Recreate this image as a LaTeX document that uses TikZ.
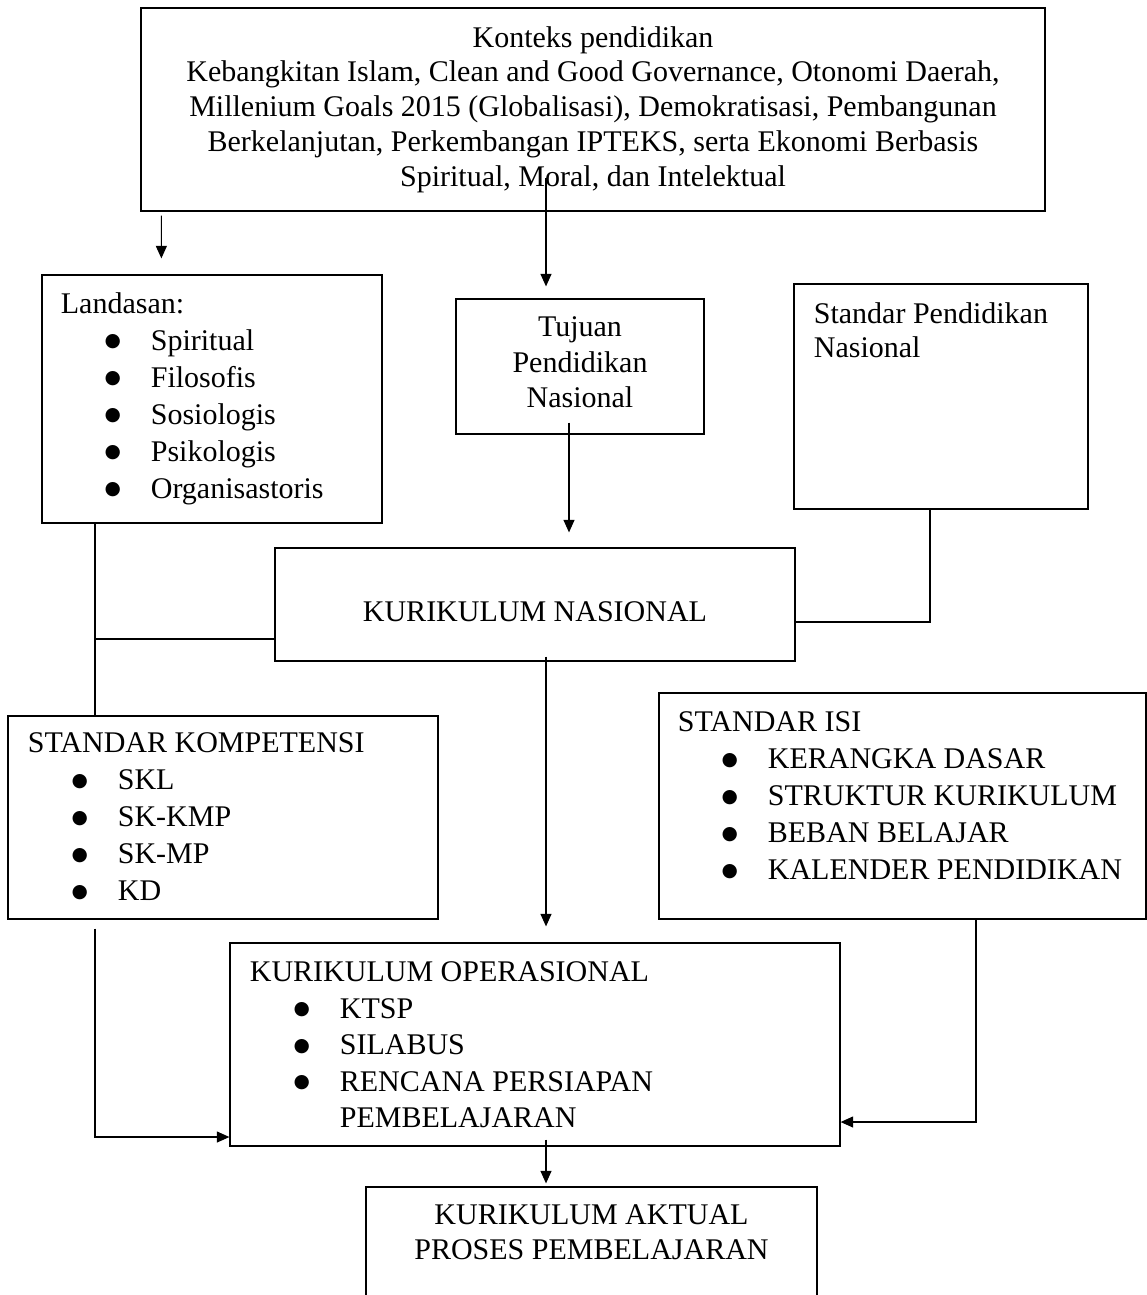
\documentclass[tikz,border=0pt]{standalone}
\usepackage{fontspec}
\setmainfont{Liberation Serif}
\newfontfamily\bulletfont{DejaVu Sans}
\usetikzlibrary{arrows.meta, positioning, calc}
\tikzset{
  box/.style={draw, line width=0.5pt, inner sep=0pt},
  txt/.style={inner sep=0pt, anchor=north west, align=left},
  link/.style={line width=0.45pt},
  arr/.style={link, -{Triangle[length=5pt, width=4.4pt]}},
}
\newcommand{\titik}[1]{\hspace*{17.5pt}\makebox[18.5pt][l]{\raisebox{1.4pt}{\bulletfont\fontsize{7.5}{7.5}\selectfont ●}}#1}

\begin{document}
\begin{tikzpicture}[x=0.4pt, y=-0.4pt, font=\fontsize{12}{14.8}\selectfont]
  \clip (0,0) rectangle (1147,1295);

  \node[box, minimum width=361.6pt, minimum height=81.2pt] (konteks) at (593,109.5) {};
  \node[box, minimum width=136pt, minimum height=99.2pt] (lan) at (212,399) {};
  \node[box, minimum width=99.2pt, minimum height=54pt] (tujuan) at (580,366.5) {};
  \node[box, minimum width=117.6pt, minimum height=90pt] (spn) at (941,396.5) {};
  \node[box, minimum width=208pt, minimum height=45.2pt] (kn) at (535,604.5) {};
  \node[box, minimum width=172pt, minimum height=81.2pt] (sk) at (223,817.5) {};
  \node[box, minimum width=194.8pt, minimum height=90.4pt] (si) at (902.5,806) {};
  \node[box, minimum width=244pt, minimum height=81.2pt] (ko) at (535,1044.5) {};
  \node[box, minimum width=180.4pt, minimum height=57.2pt] (ka) at (591.5,1258.5) {};

  \node[inner sep=0pt, align=center, font=\fontsize{12}{13.9}\selectfont] (kontekstxt) at (konteks.center) {%
    Konteks pendidikan\\
    Kebangkitan Islam, Clean and Good Governance, Otonomi Daerah,\\
    Millenium Goals 2015 (Globalisasi), Demokratisasi, Pembangunan\\
    Berkelanjutan, Perkembangan IPTEKS, serta Ekonomi Berbasis\\
    Spiritual, Moral, dan Intelektual};
  \node[txt] (lantxt) at ([shift={(19,17.5)}]lan.north west) {%
    Landasan:\\ \titik{Spiritual}\\ \titik{Filosofis}\\ \titik{Sosiologis}\\
    \titik{Psikologis}\\ \titik{Organisastoris}};
  \node[inner sep=0pt, align=center, font=\fontsize{12}{14.2}\selectfont] (tujuantxt)
    at ([yshift=1.6pt]tujuan.center) {Tujuan\\Pendidikan\\Nasional};
  \node[txt, font=\fontsize{12}{13.6}\selectfont] (spntxt) at ([shift={(20,18.5)}]spn.north west)
    {Standar Pendidikan\\Nasional};
  \node[inner sep=0pt] (kntxt) at ([yshift=-3pt]kn.center) {KURIKULUM NASIONAL};
  \node[txt] (sktxt) at ([shift={(20,17)}]sk.north west) {%
    STANDAR KOMPETENSI\\ \titik{SKL}\\ \titik{SK-KMP}\\ \titik{SK-MP}\\ \titik{KD}};
  \node[txt] (sitxt) at ([shift={(19,19)}]si.north west) {%
    STANDAR ISI\\ \titik{KERANGKA DASAR}\\ \titik{STRUKTUR KURIKULUM}\\
    \titik{BEBAN BELAJAR}\\ \titik{KALENDER PENDIDIKAN}};
  \node[txt, font=\fontsize{12}{14.6}\selectfont] (kotxt) at ([shift={(20,19)}]ko.north west) {%
    KURIKULUM OPERASIONAL\\ \titik{KTSP}\\ \titik{SILABUS}\\
    \titik{RENCANA PERSIAPAN}\\ \hspace*{36pt}PEMBELAJARAN};
  \node[inner sep=0pt, align=center, font=\fontsize{12}{14}\selectfont] (katxt)
    at ([yshift=-18.2pt]ka.north) {KURIKULUM AKTUAL\\PROSES PEMBELAJARAN};

  \draw[arr] ([shift={(21,4)}]konteks.south west) -- ([shift={(120,-16)}]lan.north west);
  \draw[arr] ([shift={(-47,-34)}]konteks.south) -- ([shift={(-34,-12)}]tujuan.north);
  \draw[arr] ([shift={(-11,-12)}]tujuan.south) -- ([shift={(34,-15)}]kn.north);
  \draw[link] ([shift={(-11,0)}]spn.south) |- ([shift={(0,17.5)}]kn.east);
  \coordinate (lanfoot) at ([shift={(-117,0)}]lan.south);
  \draw[link] (lanfoot) -- (lanfoot |- sk.north);
  \draw[link] ([shift={(0,34.5)}]kn.west) -- ++(-180,0);
  \draw[arr] ([shift={(11,-5)}]kn.south) -- ([shift={(11,-16)}]ko.north);
  \draw[arr] ([shift={(-128,9)}]sk.south) |- ([shift={(0,92.5)}]ko.west);
  \draw[arr] ([shift={(73.5,0)}]si.south) |- ([shift={(0,77.5)}]ko.east);
  \draw[arr] ([shift={(11,-7)}]ko.south) -- ([shift={(-45.5,-3)}]ka.north);
\end{tikzpicture}
\end{document}
